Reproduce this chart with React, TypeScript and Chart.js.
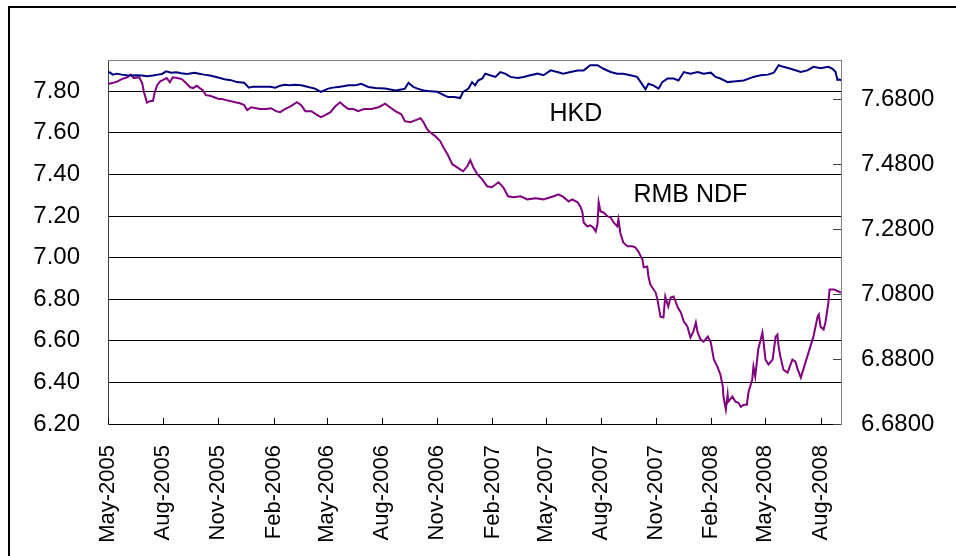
import React, { useEffect, useRef } from "react";
import { Chart, registerables } from "chart.js";

Chart.register(...registerables);

// ---------- data ----------
const rmbDates = [
  "2005-05-01","2005-05-08","2005-05-16","2005-05-24","2005-06-02","2005-06-08","2005-06-13","2005-06-22","2005-06-27","2005-06-30",
  "2005-07-05","2005-07-10","2005-07-15","2005-07-18","2005-07-22","2005-07-27","2005-07-31","2005-08-07","2005-08-12","2005-08-17",
  "2005-08-24","2005-09-01","2005-09-08","2005-09-15","2005-09-20","2005-09-26","2005-10-01","2005-10-06","2005-10-11","2005-10-18",
  "2005-10-25","2005-11-02","2005-11-07","2005-11-14","2005-11-22","2005-11-29","2005-12-07","2005-12-14","2005-12-19","2005-12-26",
  "2006-01-03","2006-01-10","2006-01-20","2006-01-28","2006-02-05","2006-02-12","2006-02-20","2006-03-02","2006-03-12","2006-03-19",
  "2006-03-26","2006-04-05","2006-04-13","2006-04-21","2006-04-28","2006-05-07","2006-05-15","2006-05-23","2006-05-30","2006-06-06",
  "2006-06-14","2006-06-22","2006-07-02","2006-07-14","2006-07-26","2006-08-06","2006-08-14","2006-08-23","2006-09-02","2006-09-08",
  "2006-09-17","2006-09-25","2006-10-04","2006-10-09","2006-10-15","2006-10-20","2006-10-29","2006-11-06","2006-11-11","2006-11-18",
  "2006-11-26","2006-12-04","2006-12-14","2006-12-21","2006-12-26","2006-12-31","2007-01-07","2007-01-15","2007-01-23","2007-01-31",
  "2007-02-11","2007-02-19","2007-02-27","2007-03-08","2007-03-20","2007-03-31","2007-04-14","2007-04-27","2007-05-14","2007-05-22",
  "2007-05-30","2007-06-08","2007-06-14","2007-06-23","2007-06-28","2007-07-01","2007-07-03","2007-07-09","2007-07-14","2007-07-19",
  "2007-07-23","2007-07-26","2007-07-28","2007-07-31","2007-08-05","2007-08-12","2007-08-17","2007-08-22","2007-08-28","2007-08-30",
  "2007-09-02","2007-09-07","2007-09-14","2007-09-22","2007-09-27","2007-10-02","2007-10-09","2007-10-11","2007-10-17","2007-10-19",
  "2007-10-22","2007-10-31","2007-11-03","2007-11-08","2007-11-13","2007-11-16","2007-11-21","2007-11-25","2007-11-30","2007-12-07",
  "2007-12-12","2007-12-17","2007-12-23","2007-12-28","2008-01-02","2008-01-06","2008-01-09","2008-01-14","2008-01-19","2008-01-26",
  "2008-01-31","2008-02-05","2008-02-11","2008-02-16","2008-02-20","2008-02-21","2008-02-25","2008-02-28","2008-02-29","2008-03-07",
  "2008-03-12","2008-03-17","2008-03-21","2008-03-26","2008-03-31","2008-04-03","2008-04-09","2008-04-11","2008-04-14","2008-04-19",
  "2008-04-26","2008-04-28","2008-05-01","2008-05-06","2008-05-13","2008-05-18","2008-05-21","2008-05-23","2008-05-26","2008-05-31",
  "2008-06-07","2008-06-15","2008-06-20","2008-06-24","2008-06-29","2008-07-20","2008-07-27","2008-07-29","2008-08-01","2008-08-06",
  "2008-08-09","2008-08-14","2008-08-16","2008-08-23","2008-08-31","2008-09-04",
];
const rmbValues = [
  7.834,7.839,7.846,7.858,7.867,7.880,7.863,7.867,7.839,7.795,
  7.745,7.752,7.754,7.795,7.829,7.848,7.853,7.863,7.843,7.867,
  7.863,7.858,7.839,7.819,7.815,7.826,7.815,7.805,7.781,7.778,
  7.771,7.762,7.762,7.757,7.752,7.747,7.742,7.733,7.709,7.723,
  7.718,7.714,7.714,7.718,7.704,7.699,7.714,7.728,7.747,7.733,
  7.704,7.704,7.689,7.675,7.685,7.699,7.728,7.747,7.728,7.714,
  7.714,7.704,7.714,7.714,7.723,7.740,7.723,7.704,7.689,7.656,
  7.651,7.660,7.670,7.651,7.617,7.603,7.583,7.559,7.530,7.497,
  7.449,7.434,7.415,7.439,7.468,7.434,7.400,7.376,7.343,7.338,
  7.362,7.338,7.295,7.290,7.295,7.280,7.285,7.280,7.295,7.304,
  7.292,7.270,7.280,7.266,7.242,7.217,7.169,7.150,7.155,7.145,
  7.126,7.160,7.266,7.223,7.217,7.198,7.193,7.169,7.150,7.184,
  7.121,7.073,7.054,7.054,7.049,7.030,6.991,6.953,6.957,6.909,
  6.871,6.832,6.798,6.716,6.712,6.813,6.765,6.808,6.813,6.760,
  6.736,6.693,6.668,6.616,6.645,6.688,6.640,6.606,6.596,6.620,
  6.591,6.510,6.476,6.437,6.380,6.332,6.269,6.341,6.307,6.332,
  6.307,6.302,6.283,6.293,6.293,6.356,6.413,6.476,6.428,6.558,
  6.640,6.591,6.510,6.486,6.510,6.620,6.630,6.572,6.524,6.461,
  6.447,6.510,6.500,6.461,6.423,6.620,6.716,6.726,6.668,6.654,
  6.688,6.784,6.847,6.847,6.837,6.832,
];

const hkdDates = [
  "2005-05-01","2005-05-04","2005-05-09","2005-05-16","2005-05-24","2005-06-02","2005-06-10","2005-06-18","2005-06-27","2005-07-05",
  "2005-07-15","2005-07-23","2005-07-30","2005-08-06","2005-08-14","2005-08-23","2005-08-31","2005-09-10","2005-09-22","2005-09-30",
  "2005-10-08","2005-10-18","2005-10-30","2005-11-11","2005-11-22","2005-12-02","2005-12-14","2005-12-22","2005-12-29","2006-01-06",
  "2006-01-18","2006-01-26","2006-02-04","2006-02-12","2006-02-20","2006-02-28","2006-03-09","2006-03-19","2006-03-31","2006-04-11",
  "2006-04-21","2006-05-03","2006-05-11","2006-05-20","2006-05-28","2006-06-06","2006-06-17","2006-06-27","2006-07-09","2006-07-21",
  "2006-08-06","2006-08-23","2006-09-04","2006-09-08","2006-09-14","2006-09-22","2006-09-29","2006-10-09","2006-10-20","2006-11-01",
  "2006-11-11","2006-11-19","2006-11-29","2006-12-09","2006-12-14","2006-12-23","2006-12-29","2007-01-03","2007-01-08","2007-01-15",
  "2007-01-20","2007-01-28","2007-02-06","2007-02-14","2007-02-22","2007-03-03","2007-03-15","2007-03-25","2007-04-05","2007-04-17",
  "2007-04-27","2007-05-09","2007-05-20","2007-05-30","2007-06-11","2007-06-23","2007-07-03","2007-07-14","2007-07-26","2007-08-05",
  "2007-08-17","2007-08-28","2007-09-07","2007-09-19","2007-09-30","2007-10-06","2007-10-14","2007-10-19","2007-10-27","2007-11-05",
  "2007-11-11","2007-11-20","2007-11-30","2007-12-08","2007-12-17","2007-12-28","2008-01-09","2008-01-19","2008-01-31","2008-02-08",
  "2008-02-16","2008-02-28","2008-03-09","2008-03-26","2008-04-11","2008-04-23","2008-05-05","2008-05-15","2008-05-23","2008-05-31",
  "2008-06-12","2008-06-29","2008-07-10","2008-07-20","2008-08-01","2008-08-14","2008-08-21","2008-08-26","2008-08-29","2008-09-02",
  "2008-09-04",
];
const hkdValues = [
  7.761,7.762,7.755,7.758,7.755,7.753,7.752,7.753,7.752,7.750,
  7.752,7.755,7.757,7.765,7.761,7.762,7.759,7.757,7.761,7.758,
  7.755,7.752,7.747,7.741,7.738,7.732,7.730,7.715,7.718,7.718,
  7.718,7.718,7.715,7.721,7.724,7.722,7.724,7.722,7.717,7.712,
  7.702,7.712,7.715,7.717,7.719,7.722,7.722,7.727,7.717,7.714,
  7.712,7.706,7.710,7.712,7.730,7.717,7.712,7.706,7.704,7.702,
  7.693,7.686,7.686,7.683,7.702,7.712,7.732,7.722,7.737,7.743,
  7.758,7.753,7.748,7.763,7.758,7.748,7.745,7.748,7.753,7.758,
  7.753,7.768,7.763,7.758,7.763,7.768,7.768,7.784,7.784,7.773,
  7.763,7.758,7.758,7.753,7.748,7.732,7.710,7.727,7.722,7.712,
  7.732,7.743,7.743,7.737,7.763,7.758,7.763,7.758,7.761,7.748,
  7.743,7.732,7.734,7.737,7.748,7.753,7.755,7.761,7.784,7.779,
  7.773,7.763,7.768,7.779,7.775,7.779,7.773,7.763,7.739,7.740,
  7.737,
];

const xTickDates = [
  "2005-05-01","2005-08-01","2005-11-01","2006-02-01","2006-05-01","2006-08-01","2006-11-01",
  "2007-02-01","2007-05-01","2007-08-01","2007-11-01","2008-02-01","2008-05-01","2008-08-01",
];
const xTickLabels = [
  "May-2005","Aug-2005","Nov-2005","Feb-2006","May-2006","Aug-2006","Nov-2006",
  "Feb-2007","May-2007","Aug-2007","Nov-2007","Feb-2008","May-2008","Aug-2008",
];
const xStart = "2005-05-01";
const xEnd = "2008-09-04";

const leftTicks = [6.2, 6.4, 6.6, 6.8, 7.0, 7.2, 7.4, 7.6, 7.8];
const leftMin = 6.2;
const leftMax = 7.95;
const rightTicks = [6.68, 6.88, 7.08, 7.28, 7.48, 7.68];
const rightMin = 6.68;
const rightMax = 7.8;

const annotations = [
  { text: "HKD", date: "2007-05-07", value: 7.656 },
  { text: "RMB NDF", date: "2007-09-24", value: 7.266 },
];

// ---------- helpers ----------
const BASE = (() => {
  const [y, m, d] = xStart.split("-").map(Number);
  return Date.UTC(y, m - 1, d);
})();
const toDay = (s: string) => {
  const [y, m, d] = s.split("-").map(Number);
  return (Date.UTC(y, m - 1, d) - BASE) / 864e5;
};

const FONT = '"Liberation Sans", Arial, Helvetica, sans-serif';

export default function App() {
  const ref = useRef<HTMLCanvasElement>(null);

  useEffect(() => {
    const canvas = ref.current;
    if (!canvas) return;

    const extras = {
      id: "extras",
      afterDraw(chart: any) {
        const { ctx, chartArea } = chart;
        const { left, right, top, bottom } = chartArea;
        ctx.save();
        // plot top border
        ctx.strokeStyle = "#808080";
        ctx.lineWidth = 1;
        ctx.beginPath();
        ctx.moveTo(left, top + 0.5);
        ctx.lineTo(right, top + 0.5);
        ctx.stroke();
        // inside tick marks on x
        ctx.strokeStyle = "#000";
        const xs = chart.scales.x;
        ctx.beginPath();
        xs.ticks.forEach((t: any) => {
          const px = Math.round(xs.getPixelForValue(t.value)) + 0.5;
          ctx.moveTo(px, bottom);
          ctx.lineTo(px, bottom - 6);
        });
        ctx.stroke();
        // inside tick marks on right axis
        const ys = chart.scales.y1;
        ctx.strokeStyle = "#404040";
        ctx.beginPath();
        ys.ticks.forEach((t: any) => {
          const py = Math.round(ys.getPixelForValue(t.value)) + 0.5;
          ctx.moveTo(right, py);
          ctx.lineTo(right - 8, py);
        });
        ctx.stroke();
        // annotations
        ctx.fillStyle = "#000";
        ctx.font = `25px ${FONT}`;
        ctx.textAlign = "left";
        ctx.textBaseline = "alphabetic";
        const yl = chart.scales.y;
        annotations.forEach((a) => {
          ctx.fillText(a.text, xs.getPixelForValue(toDay(a.date)), yl.getPixelForValue(a.value));
        });
        // outer frame
        ctx.strokeStyle = "#000";
        ctx.lineWidth = 2;
        ctx.beginPath();
        ctx.moveTo(9, chart.height);
        ctx.lineTo(9, 7);
        ctx.lineTo(chart.width, 7);
        ctx.stroke();
        ctx.restore();
      },
    };

    const chart = new Chart(canvas, {
      type: "line",
      data: {
        datasets: [
          {
            label: "HKD",
            data: hkdDates.map((d, i) => ({ x: toDay(d), y: hkdValues[i] })),
            borderColor: "#000080",
            backgroundColor: "#000080",
            borderWidth: 2,
            pointRadius: 0,
            tension: 0,
            yAxisID: "y1",
          },
          {
            label: "RMB NDF",
            data: rmbDates.map((d, i) => ({ x: toDay(d), y: rmbValues[i] })),
            borderColor: "#800080",
            backgroundColor: "#800080",
            borderWidth: 2,
            pointRadius: 0,
            tension: 0,
            yAxisID: "y",
          },
        ],
      },
      options: {
        responsive: false,
        animation: false,
        events: [],
        layout: { padding: { top: 60, left: 0, right: 0, bottom: 0 } },
        plugins: { legend: { display: false }, tooltip: { enabled: false } },
        scales: {
          x: {
            type: "linear",
            min: toDay(xStart),
            max: toDay(xEnd),
            grid: { display: false, drawTicks: false },
            border: { display: true, color: "#000", width: 1 },
            afterBuildTicks: (s: any) => {
              s.ticks = xTickDates.map((d) => ({ value: toDay(d) }));
            },
            afterFit: (s: any) => {
              s.height = 132;
            },
            ticks: {
              autoSkip: false,
              minRotation: 90,
              maxRotation: 90,
              padding: 21,
              color: "#000",
              font: { family: FONT, size: 22 },
              callback: (_v: any, i: number) => xTickLabels[i],
            },
          },
          y: {
            type: "linear",
            position: "left",
            min: leftMin,
            max: leftMax,
            afterBuildTicks: (s: any) => {
              s.ticks = leftTicks.map((v) => ({ value: v }));
            },
            afterFit: (s: any) => {
              s.width = 108;
            },
            grid: { color: "#000", lineWidth: 1, drawTicks: false },
            border: { display: true, color: "#404040", width: 1 },
            ticks: {
              padding: 28,
              color: "#000",
              font: { family: FONT, size: 24 },
              callback: (v: any) => Number(v).toFixed(2),
            },
          },
          y1: {
            type: "linear",
            position: "right",
            min: rightMin,
            max: rightMax,
            afterBuildTicks: (s: any) => {
              s.ticks = rightTicks.map((v) => ({ value: v }));
            },
            afterFit: (s: any) => {
              s.width = 115;
            },
            grid: { display: false, drawTicks: false },
            border: { display: true, color: "#808080", width: 1 },
            ticks: {
              padding: 20,
              color: "#000",
              font: { family: FONT, size: 24 },
              callback: (v: any) => Number(v).toFixed(4),
            },
          },
        },
      },
      plugins: [extras],
    } as any);

    return () => chart.destroy();
  }, []);

  return (
    <canvas
      ref={ref}
      width={956}
      height={556}
      style={{ position: "absolute", left: 0, top: 0, width: 956, height: 556 }}
    />
  );
}
